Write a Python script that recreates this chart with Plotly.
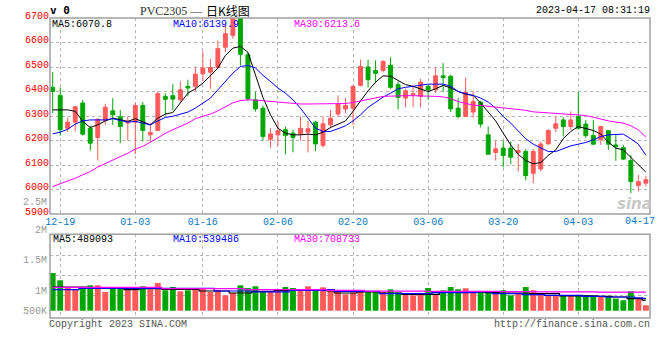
import plotly.graph_objects as go

# ---------------- data ----------------
DATES = [
    "2022-12-16", "2022-12-19", "2022-12-20", "2022-12-21", "2022-12-22", "2022-12-23",
    "2022-12-26", "2022-12-27", "2022-12-28", "2022-12-29", "2022-12-30",
    "2023-01-03", "2023-01-04", "2023-01-05", "2023-01-06", "2023-01-09", "2023-01-10",
    "2023-01-11", "2023-01-12", "2023-01-13",
    "2023-01-16", "2023-01-17", "2023-01-18", "2023-01-19", "2023-01-20",
    "2023-01-30", "2023-01-31", "2023-02-01", "2023-02-02", "2023-02-03",
    "2023-02-06", "2023-02-07", "2023-02-08", "2023-02-09", "2023-02-10",
    "2023-02-13", "2023-02-14", "2023-02-15", "2023-02-16", "2023-02-17",
    "2023-02-20", "2023-02-21", "2023-02-22", "2023-02-23", "2023-02-24",
    "2023-02-27", "2023-02-28", "2023-03-01", "2023-03-02", "2023-03-03",
    "2023-03-06", "2023-03-07", "2023-03-08", "2023-03-09", "2023-03-10",
    "2023-03-13", "2023-03-14", "2023-03-15", "2023-03-16", "2023-03-17",
    "2023-03-20", "2023-03-21", "2023-03-22", "2023-03-23", "2023-03-24",
    "2023-03-27", "2023-03-28", "2023-03-29", "2023-03-30", "2023-03-31",
    "2023-04-03", "2023-04-04", "2023-04-06", "2023-04-07",
    "2023-04-10", "2023-04-11", "2023-04-12", "2023-04-13", "2023-04-14",
    "2023-04-17",
]

OPEN = [6417, 6384, 6250, 6275, 6353, 6250, 6212, 6282, 6321, 6297,
        6272, 6275, 6343, 6223, 6241, 6380, 6383, 6366, 6421, 6421,
        6472, 6479, 6498, 6581, 6629, 6720, 6550, 6366, 6332, 6205,
        6223, 6244, 6230, 6226, 6234, 6275, 6180, 6264, 6308, 6329,
        6332, 6425, 6500, 6485, 6486, 6507, 6428, 6373, 6387, 6380,
        6421, 6407, 6464, 6462, 6332, 6298, 6316, 6357, 6223, 6151,
        6169, 6169, 6151, 6155, 6066, 6084, 6186, 6250, 6284, 6257,
        6298, 6267, 6220, 6203, 6240, 6182, 6171, 6118, 6016, 6026]
HIGH = [6479, 6417, 6294, 6340, 6366, 6261, 6290, 6350, 6373, 6325,
        6298, 6353, 6357, 6271, 6400, 6393, 6430, 6441, 6448, 6502,
        6564, 6534, 6609, 6673, 6770, 6760, 6560, 6398, 6343, 6250,
        6278, 6257, 6244, 6298, 6280, 6280, 6298, 6325, 6384, 6373,
        6425, 6530, 6530, 6527, 6527, 6539, 6441, 6411, 6425, 6452,
        6428, 6498, 6516, 6468, 6373, 6457, 6400, 6362, 6257, 6199,
        6199, 6196, 6185, 6165, 6166, 6196, 6245, 6298, 6294, 6319,
        6398, 6284, 6284, 6260, 6243, 6226, 6182, 6141, 6060, 6056]
LOW = [6312, 6220, 6234, 6237, 6220, 6159, 6118, 6264, 6264, 6189,
       6200, 6144, 6196, 6193, 6238, 6302, 6323, 6353, 6380, 6400,
       6441, 6411, 6496, 6561, 6615, 6505, 6360, 6318, 6199, 6169,
       6178, 6144, 6152, 6199, 6151, 6157, 6172, 6250, 6294, 6312,
       6264, 6421, 6416, 6434, 6479, 6411, 6327, 6335, 6335, 6335,
       6366, 6393, 6398, 6316, 6290, 6296, 6294, 6253, 6144, 6118,
       6090, 6103, 6073, 6037, 6026, 6073, 6184, 6234, 6216, 6244,
       6244, 6210, 6183, 6182, 6162, 6117, 6120, 5985, 5992, 6012]
CLOSE = [6400, 6244, 6275, 6338, 6226, 6189, 6287, 6336, 6305, 6257,
         6278, 6343, 6241, 6233, 6391, 6368, 6369, 6407, 6414, 6471,
         6496, 6498, 6575, 6636, 6730, 6552, 6370, 6329, 6216, 6227,
         6240, 6220, 6212, 6250, 6248, 6186, 6268, 6291, 6350, 6343,
         6421, 6502, 6448, 6474, 6523, 6417, 6376, 6403, 6391, 6438,
         6407, 6464, 6457, 6329, 6298, 6396, 6359, 6267, 6144, 6166,
         6139, 6132, 6159, 6057, 6155, 6186, 6241, 6268, 6257, 6284,
         6250, 6220, 6185, 6257, 6185, 6175, 6124, 6032, 6032, 6040]

MA5 = [6325, 6325, 6325, 6319, 6278, 6253, 6264, 6280, 6291, 6285,
       6278, 6289, 6278, 6264, 6291, 6308, 6314, 6353, 6393, 6411,
       6434, 6464, 6496, 6547, 6577, 6584, 6560, 6468, 6376, 6305,
       6250, 6230, 6223, 6223, 6226, 6223, 6234, 6253, 6267, 6280,
       6319, 6362, 6403, 6438, 6464, 6462, 6445, 6428, 6421, 6411,
       6400, 6411, 6425, 6415, 6400, 6389, 6384, 6353, 6316, 6280,
       6230, 6182, 6144, 6118, 6105, 6110, 6139, 6162, 6207, 6237,
       6257, 6250, 6241, 6226, 6193, 6169, 6162, 6131, 6103, 6071]
MA10 = [6227, 6234, 6246, 6267, 6280, 6284, 6284, 6284, 6289, 6283,
        6275, 6278, 6271, 6264, 6280, 6294, 6299, 6308, 6316, 6332,
        6353, 6373, 6407, 6441, 6475, 6502, 6506, 6496, 6466, 6441,
        6414, 6393, 6366, 6332, 6291, 6250, 6237, 6237, 6248, 6260,
        6280, 6305, 6335, 6357, 6377, 6393, 6411, 6417, 6422, 6428,
        6430, 6430, 6430, 6422, 6400, 6391, 6384, 6373, 6357, 6332,
        6298, 6271, 6237, 6207, 6185, 6169, 6155, 6155, 6166, 6178,
        6185, 6192, 6203, 6216, 6223, 6226, 6226, 6207, 6185, 6140]
MA30 = [6012, 6023, 6035, 6046, 6060, 6073, 6092, 6106, 6120, 6133,
        6148, 6165, 6176, 6193, 6212, 6229, 6244, 6257, 6271, 6289,
        6298, 6308, 6321, 6338, 6354, 6363, 6366, 6365, 6362, 6359,
        6355, 6353, 6350, 6349, 6349, 6349, 6349, 6349, 6349, 6351,
        6355, 6362, 6369, 6376, 6380, 6381, 6383, 6383, 6383, 6383,
        6381, 6380, 6378, 6371, 6359, 6350, 6344, 6343, 6340, 6336,
        6334, 6332, 6329, 6323, 6317, 6315, 6313, 6310, 6309, 6308,
        6305, 6302, 6295, 6287, 6280, 6275, 6271, 6260, 6243, 6214]

VOLUME = [1238000, 1037000, 853000, 789000, 853000, 899000, 899000, 716000, 835000, 835000,
          808000, 762000, 872000, 789000, 963000, 762000, 853000, 734000, 762000, 789000,
          826000, 716000, 762000, 624000, 688000, 899000, 826000, 872000, 743000, 743000,
          780000, 853000, 826000, 789000, 872000, 762000, 844000, 743000, 716000, 652000,
          698000, 743000, 734000, 716000, 716000, 789000, 698000, 670000, 624000, 643000,
          826000, 643000, 762000, 853000, 789000, 817000, 716000, 716000, 688000, 716000,
          762000, 624000, 670000, 853000, 762000, 652000, 606000, 606000, 624000, 606000,
          624000, 624000, 578000, 578000, 578000, 533000, 487000, 734000, 533000, 349000]
VOL_MA5 = [853000, 853000, 853000, 853000, 853000, 826000, 826000, 826000, 826000, 826000,
           780000, 780000, 808000, 808000, 808000, 789000, 789000, 789000, 789000, 789000,
           743000, 743000, 743000, 743000, 688000, 688000, 688000, 734000, 734000, 734000,
           762000, 762000, 762000, 762000, 762000, 762000, 762000, 743000, 688000, 688000,
           688000, 716000, 716000, 716000, 688000, 688000, 688000, 652000, 652000, 652000,
           652000, 652000, 716000, 716000, 716000, 716000, 716000, 716000, 698000, 698000,
           688000, 688000, 688000, 688000, 670000, 670000, 670000, 670000, 606000, 606000,
           606000, 606000, 606000, 597000, 597000, 578000, 578000, 533000, 533000, 489000]
VOL_MA10 = [780000, 780000, 780000, 780000, 817000, 817000, 817000, 817000, 817000, 817000,
            817000, 817000, 817000, 817000, 817000, 817000, 817000, 817000, 817000, 817000,
            817000, 817000, 743000, 743000, 743000, 743000, 743000, 716000, 716000, 716000,
            716000, 716000, 762000, 762000, 762000, 762000, 762000, 780000, 734000, 734000,
            734000, 734000, 734000, 734000, 670000, 670000, 670000, 670000, 670000, 670000,
            670000, 698000, 698000, 698000, 698000, 698000, 698000, 716000, 716000, 670000,
            670000, 670000, 670000, 643000, 643000, 643000, 624000, 624000, 624000, 624000,
            624000, 597000, 597000, 597000, 578000, 578000, 578000, 578000, 555000, 539000]
VOL_MA30 = [844000, 844000, 844000, 844000, 844000, 844000, 844000, 844000, 844000, 844000,
            844000, 844000, 844000, 844000, 844000, 808000, 808000, 808000, 808000, 808000,
            808000, 808000, 808000, 808000, 808000, 808000, 780000, 780000, 780000, 780000,
            780000, 780000, 780000, 780000, 780000, 780000, 780000, 762000, 762000, 762000,
            762000, 762000, 740000, 740000, 740000, 740000, 740000, 740000, 740000, 740000,
            735000, 735000, 735000, 735000, 735000, 730000, 730000, 730000, 730000, 730000,
            725000, 725000, 725000, 725000, 725000, 720000, 720000, 720000, 720000, 720000,
            716000, 716000, 716000, 714000, 714000, 712000, 712000, 710000, 710000, 709000]

TICK_DATES = ["2022-12-19", "2023-01-03", "2023-01-16", "2023-02-06", "2023-02-20",
              "2023-03-06", "2023-03-20", "2023-04-03", "2023-04-17"]
TICK_LABELS = ["12-19", "01-03", "01-16", "02-06", "02-20", "03-06", "03-20", "04-03", "04-17"]
PRICE_TICKS = [5900, 6000, 6100, 6200, 6300, 6400, 6500, 6600, 6700]
VOL_TICK_LABELS = ["2.5M", "2M", "1.5M", "1M", "500K"]
VOL_GRID = [1732500, 1182500, 632500]

SYMBOL = "PVC2305 \u2014"
TITLE_CN = "日K线图"
TIMESTAMP = "2023-04-17 08:31:19"
PRICE_LEGEND = ["MA5:6070.8", "MA10:6139.9", "MA30:6213.6"]
VOL_LEGEND = ["MA5:489093", "MA10:539486", "MA30:708733"]

# ---------------- style ----------------
RED = "#ff5a5a"
GREEN = "#00a600"
MA_COLORS = ["#000000", "#0000ff", "#ff00ff"]
MONO = "Liberation Mono"
FS = 10
W, H = 660, 360
ML, MR, MT, MB = 50, 10, 18, 42
PW, PH = W - ML - MR, H - MT - MB


def fx(px):
    return (px - ML) / PW


def fy(py):
    return (H - MB - py) / PH


VOL_BASE = 200000
VOL_TOP = 2302000

fig = go.Figure()

fig.add_trace(go.Candlestick(
    x=DATES, open=OPEN, high=HIGH, low=LOW, close=CLOSE,
    increasing=dict(line=dict(color=RED, width=1), fillcolor=RED),
    decreasing=dict(line=dict(color=GREEN, width=1), fillcolor=GREEN),
    whiskerwidth=0, xaxis="x", yaxis="y", showlegend=False, hoverinfo="skip",
))
for ma, c in zip([MA5, MA10, MA30], MA_COLORS):
    fig.add_trace(go.Scatter(x=DATES, y=ma, mode="lines", line=dict(color=c, width=1),
                             xaxis="x", yaxis="y", showlegend=False, hoverinfo="skip"))

bar_colors = [RED if c >= o else GREEN for o, c in zip(OPEN, CLOSE)]
fig.add_trace(go.Bar(
    x=DATES, y=[v - VOL_BASE for v in VOLUME], base=VOL_BASE,
    marker=dict(color=bar_colors, line=dict(width=0)), width=0.78,
    xaxis="x2", yaxis="y2", showlegend=False, hoverinfo="skip",
))
for ma, c in zip([VOL_MA5, VOL_MA10, VOL_MA30], MA_COLORS):
    fig.add_trace(go.Scatter(x=DATES, y=ma, mode="lines", line=dict(color=c, width=1.2, shape="hvh"),
                             xaxis="x2", yaxis="y2", showlegend=False, hoverinfo="skip"))

xr = [-0.36, 79.55]
common_x = dict(type="category", range=xr, tickvals=TICK_DATES[:-1], showgrid=True,
                gridcolor="#b4b4b4", griddash="dot", gridwidth=1, zeroline=False,
                showline=False, ticks="", fixedrange=True)
fig.update_layout(
    width=W, height=H,
    margin=dict(l=ML, r=MR, t=MT, b=MB),
    paper_bgcolor="white", plot_bgcolor="white",
    boxgap=0.26,
    xaxis=dict(common_x, domain=[0, 1], anchor="y", ticktext=TICK_LABELS[:-1],
               tickfont=dict(family=MONO, size=FS, color="#0a78c8"),
               rangeslider=dict(visible=False)),
    xaxis2=dict(common_x, domain=[0, 1], anchor="y2", matches="x", showticklabels=False),
    yaxis=dict(domain=[fy(214), 1], range=[5900, 6700], tickvals=PRICE_TICKS,
               tickfont=dict(family=MONO, size=FS, color="#ff0000"), ticklabelshift=-3,
               showgrid=True, gridcolor="#b4b4b4", griddash="dot", zeroline=False,
               showline=False, ticks="", fixedrange=True),
    yaxis2=dict(domain=[0, fy(234.3)], range=[0, VOL_TOP], tickvals=VOL_GRID,
                showticklabels=False, showgrid=True, gridcolor="#b4b4b4", griddash="dot",
                zeroline=False, showline=False, ticks="", fixedrange=True),
)

# pane frames
for xa, ya in [("x", "y"), ("x2", "y2")]:
    fig.add_shape(type="rect", xref=f"{xa} domain", yref=f"{ya} domain",
                  x0=0, x1=1, y0=0, y1=1, line=dict(color="#a0a0a0", width=1.5),
                  fillcolor="rgba(0,0,0,0)", layer="above")

ann = []


def text(s, px, py, color="#000", size=FS, family=MONO, xanchor="left"):
    ann.append(dict(text=s, x=fx(px), y=fy(py), xref="paper", yref="paper",
                    xanchor=xanchor, yanchor="middle", showarrow=False, borderpad=0,
                    font=dict(family=family, size=size, color=color)))


text("<b>v 0</b>", 49, 11, size=11, family="DejaVu Sans Mono")
text(SYMBOL, 139, 11, color="#333", size=12, family="Liberation Serif")
text(TITLE_CN, 205, 11, color="#000", size=12, family="Noto Sans CJK SC")
text(TIMESTAMP, 651, 11, xanchor="right")
for s, px, c in zip(PRICE_LEGEND, [51, 172, 293], MA_COLORS):
    text(s, px, 24, color=c)
for s, px, c in zip(VOL_LEGEND, [52, 172, 293], MA_COLORS):
    text(s, px, 239, color=c)
for s, py in zip(VOL_TICK_LABELS, [202, 230, 260, 291, 311]):
    text(s, 48, py, color="#9a9a9a", xanchor="right")
text(TICK_LABELS[-1], 656, 222, color="#0a78c8", xanchor="right")
text("Copyright 2023 SINA.COM", 48, 324, color="#555")
text("http://finance.sina.com.cn", 651, 324, color="#555", xanchor="right")
ann.append(dict(text="<b><i>sina</i></b>", x=fx(634), y=fy(204), xref="paper", yref="paper",
                xanchor="center", yanchor="middle", showarrow=False,
                font=dict(family="DejaVu Sans", size=15, color="#c8c8c8")))
fig.update_layout(annotations=ann)

fig.write_html("out.html", config={"displayModeBar": False},
               post_script="document.body.style.margin='0';")
